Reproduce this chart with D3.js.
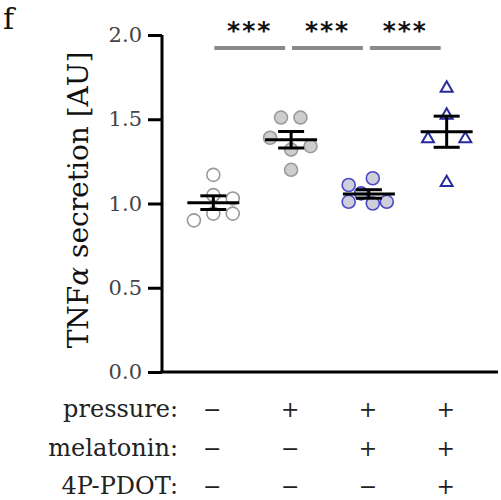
<!DOCTYPE html>
<html>
<head>
<meta charset="utf-8">
<script src="https://cdn.jsdelivr.net/npm/d3@7"></script>
<style>
  body { margin: 0; background: #fff; }
  svg text { font-family: "DejaVu Serif", serif; }
</style>
</head>
<body>
<div id="container"></div>
<script>
/* Data */
var groups = ['ctrl', 'p', 'pm', 'pmd'];
var group1 = [1.17, 1.05, 1.03, 0.94, 0.94, 0.90];
var group2 = [1.51, 1.51, 1.39, 1.32, 1.34, 1.20];
var group3 = [1.11, 1.15, 1.01, 1.00, 1.01, 1.06];
var group4 = [1.69, 1.53, 1.39, 1.39, 1.13];
// swarm slot of each point, in fractions of the group step
var jitter1 = [0, 0, 0.25, 0, 0.25, -0.25];
var jitter2 = [-0.13, 0.12, -0.27, 0, 0.25, 0];
var jitter3 = [-0.26, 0.05, -0.26, 0.05, 0.23, -0.1];
var jitter4 = [0, 0, -0.24, 0.24, 0];
var yTicks = [0, 0.5, 1.0, 1.5, 2.0];
var rowLabels = ['pressure:', 'melatonin:', '4P-PDOT:'];
var pressure = ['−', '+', '+', '+'];
var melatonin = ['−', '−', '+', '+'];
var pdot = ['−', '−', '−', '+'];
var sigPairs = [[0, 1], [1, 2], [2, 3]];
var sigLabels = ['***', '***', '***'];

var w = 501, h = 500;
var margin = {top: 35, right: 3, bottom: 128, left: 162};
var width = w - margin.left - margin.right,
	height = h - margin.top - margin.bottom;
var serif = '"DejaVu Serif", serif';

var svg = d3.select('#container').append('svg')
	.attr('width', w)
	.attr('height', h);

var chart = svg.append('g')
	.attr('transform', 'translate(' + margin.left + ',' + margin.top + ')');

/* Scales */
var xScale = d3.scalePoint()
	.domain(groups)
	.range([0, width])
	.padding(0.66);
var step = xScale.step();

var yScale = d3.scaleLinear()
	.domain([0, 2])
	.range([height, 0]);

/* Axes */
var yAxis = d3.axisLeft(yScale)
	.tickValues(yTicks)
	.tickFormat(d3.format('.1f'))
	.tickSize(14)
	.tickPadding(6);

var yG = chart.append('g').call(yAxis).attr('font-family', serif);
yG.select('.domain').attr('stroke-width', 3).attr('d', 'M0,' + height + 'V0');
yG.selectAll('.tick line').attr('stroke-width', 3);
yG.selectAll('.tick text')
	.attr('fill', '#444')
	.style('font-size', '21px')
	.style('font-family', serif);

chart.append('line')
	.attr('x1', -1.5).attr('x2', width)
	.attr('y1', height).attr('y2', height)
	.attr('stroke', '#000').attr('stroke-width', 3);

/* Y title */
svg.append('text')
	.attr('transform', 'translate(88,' + (margin.top + 165) + ') rotate(-90)')
	.attr('text-anchor', 'middle')
	.style('font-size', '28px')
	.attr('fill', '#111')
	.html('TNF<tspan font-style="italic">α</tspan> secretion [AU]');

/* panel letter */
svg.append('text')
	.attr('x', 3).attr('y', 29)
	.style('font-size', '30px')
	.attr('fill', '#111')
	.text('f');

/* Points */
var series = [
	{vals: group1, jit: jitter1, shape: 'circle', fill: '#fff', stroke: '#999'},
	{vals: group2, jit: jitter2, shape: 'circle', fill: '#cdcdcd', stroke: '#9a9a9a'},
	{vals: group3, jit: jitter3, shape: 'circle', fill: '#cfcfdc', stroke: '#4a4ac8'},
	{vals: group4, jit: jitter4, shape: 'triangle', fill: '#fff', stroke: '#2a2aa0'}
];

series.forEach(function(s, i) {
	var cx = xScale(groups[i]);
	var pts = s.vals.map(function(v, j) { return {v: v, dx: s.jit[j] * step}; });
	if (s.shape === 'circle') {
		chart.selectAll('.pt' + i).data(pts).enter().append('circle')
			.attr('cx', d => cx + d.dx)
			.attr('cy', d => yScale(d.v))
			.attr('r', 6.5)
			.attr('fill', s.fill)
			.attr('stroke', s.stroke)
			.attr('stroke-width', 1.6);
	} else {
		var tri = d3.symbol().type(d3.symbolTriangle).size(62);
		chart.selectAll('.pt' + i).data(pts).enter().append('path')
			.attr('d', tri)
			.attr('transform', d => 'translate(' + (cx + d.dx) + ',' + (yScale(d.v) + 1) + ')')
			.attr('fill', s.fill)
			.attr('stroke', s.stroke)
			.attr('stroke-width', 2);
	}

	/* mean +- SEM */
	var m = d3.mean(s.vals),
		sem = d3.deviation(s.vals) / Math.sqrt(s.vals.length);
	var eb = chart.append('g').attr('stroke', '#000').attr('stroke-width', 3);
	eb.append('line')
		.attr('x1', cx - 26).attr('x2', cx + 26)
		.attr('y1', yScale(m)).attr('y2', yScale(m));
	eb.append('line')
		.attr('x1', cx).attr('x2', cx)
		.attr('y1', yScale(m + sem)).attr('y2', yScale(m - sem));
	[m + sem, m - sem].forEach(function(v) {
		eb.append('line')
			.attr('x1', cx - 13).attr('x2', cx + 13)
			.attr('y1', yScale(v)).attr('y2', yScale(v));
	});
});

/* Significance bars */
sigPairs.forEach(function(p, i) {
	var x1 = xScale(groups[p[0]]) + 1,
		x2 = xScale(groups[p[1]]) - 6;
	chart.append('line')
		.attr('x1', x1).attr('x2', x2)
		.attr('y1', 13).attr('y2', 13)
		.attr('stroke', '#8a8a8a').attr('stroke-width', 4);
	chart.append('text')
		.attr('x', (x1 + x2) / 2).attr('y', 4)
		.attr('text-anchor', 'middle')
		.style('font-size', '25px')
		.style('font-family', '"DejaVu Sans", sans-serif')
		.style('font-weight', 'bold')
		.attr('letter-spacing', 2)
		.attr('fill', '#111')
		.text(sigLabels[i]);
});

/* Treatment table */
var rows = [pressure, melatonin, pdot];
var rowY = [417, 456, 494];
rows.forEach(function(r, i) {
	svg.append('text')
		.attr('x', 178).attr('y', rowY[i])
		.attr('text-anchor', 'end')
		.style('font-size', '24px')
		.attr('fill', '#222')
		.text(rowLabels[i]);
	svg.selectAll('.sign' + i).data(r).enter().append('text')
		.attr('x', (d, j) => margin.left + xScale(groups[j]) - 1)
		.attr('y', rowY[i])
		.attr('text-anchor', 'middle')
		.style('font-size', '22px')
		.attr('fill', '#222')
		.text(d => d);
});
</script>
</body>
</html>
